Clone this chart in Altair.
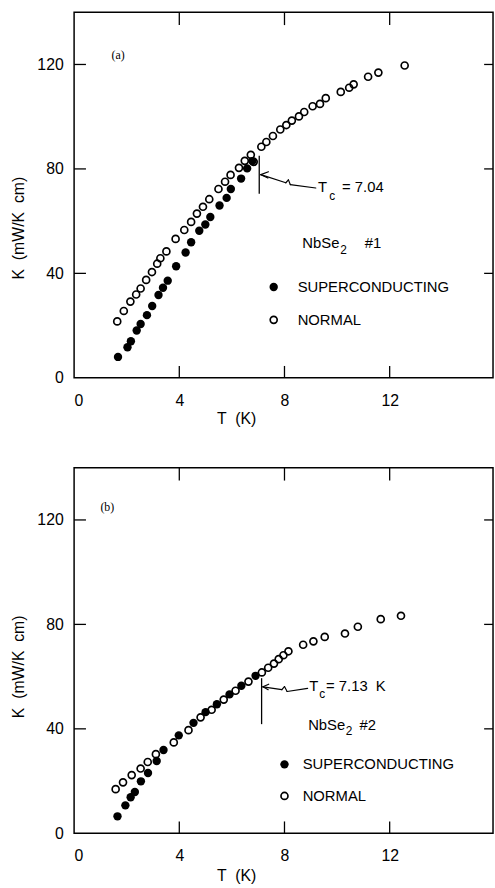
import altair as alt
import pandas as pd

# ---- NbSe2 sample #1 : thermal conductivity K (mW/K cm) vs temperature T (K)
t1_sc = [1.67, 2.03, 2.16, 2.38, 2.53, 2.77, 2.97, 3.21, 3.38, 3.56, 3.88, 4.24, 4.45,
         4.76, 4.99, 5.18, 5.53, 5.80, 5.96, 6.35, 6.58, 6.78]
k1_sc = [8.0, 11.7, 14.0, 18.1, 20.6, 24.0, 27.5, 31.7, 34.5, 37.2, 42.7, 48.0, 51.9,
         56.3, 58.7, 61.6, 66.0, 68.9, 72.3, 76.3, 80.2, 83.0]
t1_n = [1.64, 1.89, 2.14, 2.36, 2.53, 2.74, 2.96, 3.16, 3.28, 3.51, 3.86, 4.19, 4.45,
        4.67, 4.90, 5.14, 5.49, 5.74, 5.95, 6.27, 6.49, 6.72, 6.83, 7.12, 7.31, 7.56,
        7.84, 8.07, 8.28, 8.55, 8.75, 9.07, 9.35, 9.57, 10.14, 10.46, 10.63, 11.18,
        11.57, 12.57]
k1_n = [21.6, 25.6, 29.2, 31.9, 34.2, 37.5, 40.5, 43.7, 45.8, 48.4, 53.2, 56.6, 59.7,
        62.9, 65.5, 68.4, 72.3, 75.1, 77.7, 80.4, 83.1, 85.4, 82.7, 88.5, 90.3, 92.6,
        95.1, 96.8, 98.5, 100.1, 101.8, 104.0, 104.9, 107.1, 109.5, 111.1, 112.4, 115.3,
        116.9, 119.6]
tc1 = 7.04

# ---- NbSe2 sample #2
t2_sc = [1.65, 1.95, 2.15, 2.31, 2.54, 2.81, 3.14, 3.40, 3.98, 4.54, 5.00, 5.43, 5.91,
         6.36, 6.90]
k2_sc = [6.5, 10.7, 13.8, 15.8, 19.9, 23.1, 27.7, 31.9, 37.5, 42.3, 46.4, 49.4, 53.2,
         56.5, 60.3]
t2_n = [1.58, 1.86, 2.19, 2.53, 2.80, 3.11, 3.79, 4.35, 4.81, 5.23, 5.69, 6.14, 6.63,
        7.14, 7.38, 7.60, 7.78, 7.96, 8.15, 8.71, 9.10, 9.53, 10.30, 10.79, 11.66, 12.43]
k2_n = [16.9, 19.5, 22.3, 24.8, 27.3, 30.3, 34.8, 39.5, 44.4, 47.3, 51.2, 54.6, 58.1,
        61.6, 63.4, 65.0, 66.7, 68.2, 69.7, 72.2, 73.5, 75.2, 76.5, 79.1, 82.0, 83.3]
tc2 = 7.13

x_ticks = [0, 4, 8, 12]
y_ticks = [0, 40, 80, 120]
legend_names = ["SUPERCONDUCTING", "NORMAL"]

FONT = "Liberation Sans"
NB = "\u00a0"  # non-breaking space keeps the wide spacing in SVG text
W, H = 424, 370
X_MAX, Y_MAX = 15.93, 140


def panel(sc_t, sc_k, n_t, n_k, tc, tc_span, arrow, tc_text, sample, legend, tag,
          ytitle_y, xtitle_y):
    xs = alt.Scale(domain=[0, X_MAX], nice=False, zero=False)
    ys = alt.Scale(domain=[0, Y_MAX], nice=False)
    xenc = alt.X("T:Q", scale=xs,
                 axis=alt.Axis(values=x_ticks, title=f"T{NB}{NB}(K)", titleX=164,
                               titleY=xtitle_y, titleBaseline="middle"))
    yenc = alt.Y("K:Q", scale=ys,
                 axis=alt.Axis(values=y_ticks, title=f"K{NB}{NB}(mW/K{NB}{NB}cm)",
                               titleX=-56, titleY=ytitle_y, titleBaseline="middle"))

    sc = pd.DataFrame({"T": sc_t, "K": sc_k})
    nm = pd.DataFrame({"T": n_t, "K": n_k})

    def dots(df):
        return alt.Chart(df).mark_circle(size=72, color="black", opacity=1).encode(
            x=xenc, y=yenc)

    def rings(df):
        return alt.Chart(df).mark_point(shape="circle", size=50, filled=False,
                                        stroke="black", strokeWidth=1.7,
                                        opacity=1).encode(x=xenc, y=yenc)

    # legend symbols and names
    leg_sc = pd.DataFrame({"T": [legend[0]], "K": [legend[2]]})
    leg_n = pd.DataFrame({"T": [legend[0]], "K": [legend[3]]})
    leg_txt = pd.DataFrame({"T": [legend[1]] * 2, "K": [legend[2], legend[3]],
                            "txt": legend_names})
    leg_t = alt.Chart(leg_txt).mark_text(align="left", baseline="middle", font=FONT,
                                         fontSize=15, color="black").encode(
        x=xenc, y=yenc, text="txt:N")

    # transition-temperature marker and wiggly arrow
    tc_df = pd.DataFrame({"T": [tc], "K": [tc_span[0]], "K2": [tc_span[1]]})
    tc_rule = alt.Chart(tc_df).mark_rule(color="black", strokeWidth=1.3).encode(
        x=xenc, y=yenc, y2="K2:Q")
    segs = []
    for a, b in zip(arrow["path"][:-1], arrow["path"][1:]):
        segs.append({"T": a[0], "K": a[1], "T2": b[0], "K2": b[1]})
    tip = arrow["path"][-1]
    for h in arrow["head"]:
        segs.append({"T": tip[0], "K": tip[1], "T2": h[0], "K2": h[1]})
    arrow_rule = alt.Chart(pd.DataFrame(segs)).mark_rule(
        color="black", strokeWidth=1.2, strokeCap="round").encode(
        x=xenc, y=yenc, x2="T2:Q", y2="K2:Q")

    big = pd.DataFrame([
        {"T": tc_text["T"][0], "K": tc_text["T"][1], "txt": "T"},
        {"T": tc_text["eq"][0], "K": tc_text["eq"][1], "txt": tc_text["eq"][2]},
        {"T": sample["Nb"][0], "K": sample["Nb"][1], "txt": "NbSe"},
        {"T": sample["num"][0], "K": sample["num"][1], "txt": sample["num"][2]},
    ])
    small = pd.DataFrame([
        {"T": tc_text["c"][0], "K": tc_text["c"][1], "txt": "c"},
        {"T": sample["sub"][0], "K": sample["sub"][1], "txt": "2"},
    ])
    big_t = alt.Chart(big).mark_text(align="left", baseline="middle", font=FONT,
                                     fontSize=15, color="black").encode(
        x=xenc, y=yenc, text="txt:N")
    small_t = alt.Chart(small).mark_text(align="left", baseline="middle", font=FONT,
                                         fontSize=12, color="black").encode(
        x=xenc, y=yenc, text="txt:N")
    tag_t = alt.Chart(pd.DataFrame([{"T": tag[0], "K": tag[1], "txt": tag[2]}])).mark_text(
        align="left", baseline="middle", font="Liberation Serif", fontSize=12,
        color="black").encode(x=xenc, y=yenc, text="txt:N")

    # inward tick marks on all four sides
    xt = pd.DataFrame({"T": x_ticks[1:]})
    yt = pd.DataFrame({"K": y_ticks[1:]})
    t_bottom = alt.Chart(xt).mark_rule(color="black", strokeWidth=1.3).encode(
        x=xenc, y=alt.value(H), y2=alt.value(H - 12))
    t_top = alt.Chart(xt).mark_rule(color="black", strokeWidth=1.3).encode(
        x=xenc, y=alt.value(0), y2=alt.value(13))
    t_left = alt.Chart(yt).mark_rule(color="black", strokeWidth=1.3).encode(
        y=yenc, x=alt.value(0), x2=alt.value(12))
    t_right = alt.Chart(yt).mark_rule(color="black", strokeWidth=1.3).encode(
        y=yenc, x=alt.value(W - 9), x2=alt.value(W))

    return alt.layer(rings(nm), dots(sc), dots(leg_sc), rings(leg_n), leg_t, tc_rule,
                     arrow_rule, big_t, small_t, tag_t, t_bottom, t_top, t_left,
                     t_right).properties(width=W, height=H)


top = panel(
    t1_sc, k1_sc, t1_n, k1_n, tc1, (70.5, 85.0),
    {"path": [(9.19, 72.7), (8.22, 74.0), (8.15, 75.8), (8.05, 74.7), (tc1 + 0.06, 77.8)],
     "head": [(7.39, 78.9), (7.37, 76.5)]},
    {"T": (9.27, 73.0), "c": (9.70, 69.6), "eq": (10.19, 73.0, "= 7.04")},
    {"Nb": (8.68, 51.5), "sub": (10.12, 48.8), "num": (11.05, 51.5, "#1")},
    (7.59, 8.5, 34.8, 22.2),
    (1.42, 123.5, "(a)"),
    218, 41,
)

bottom = panel(
    t2_sc, k2_sc, t2_n, k2_n, tc2, (41.8, 59.4),
    {"path": [(8.88, 55.5), (8.10, 54.3), (8.00, 56.2), (7.90, 55.0), (tc2 + 0.05, 56.1)],
     "head": [(7.40, 57.1), (7.38, 55.0)]},
    {"T": (8.94, 56.5), "c": (9.32, 53.3), "eq": (9.58, 56.5, f"= 7.13{NB}{NB}K")},
    {"Nb": (8.9, 41.4), "sub": (10.33, 39.0), "num": (10.85, 41.4, "#2")},
    (8.0, 8.69, 26.4, 14.3),
    (1.0, 124.8, "(b)"),
    201, 43,
)

chart = alt.vconcat(top, bottom, spacing=39).properties(
    padding={"left": 10, "top": 5, "right": 0, "bottom": 0},
    background="white",
).configure_view(
    stroke="black", strokeWidth=1.5, fill=None
).configure_axis(
    domain=False, ticks=False, grid=False,
    labelFont=FONT, labelFontSize=16, labelColor="black", labelPadding=11,
    titleFont=FONT, titleFontSize=16, titleFontWeight="normal", titleColor="black",
).configure_axisBottom(
    labelPadding=15
)

chart.save("out.html", embed_options={"renderer": "svg", "actions": False})
